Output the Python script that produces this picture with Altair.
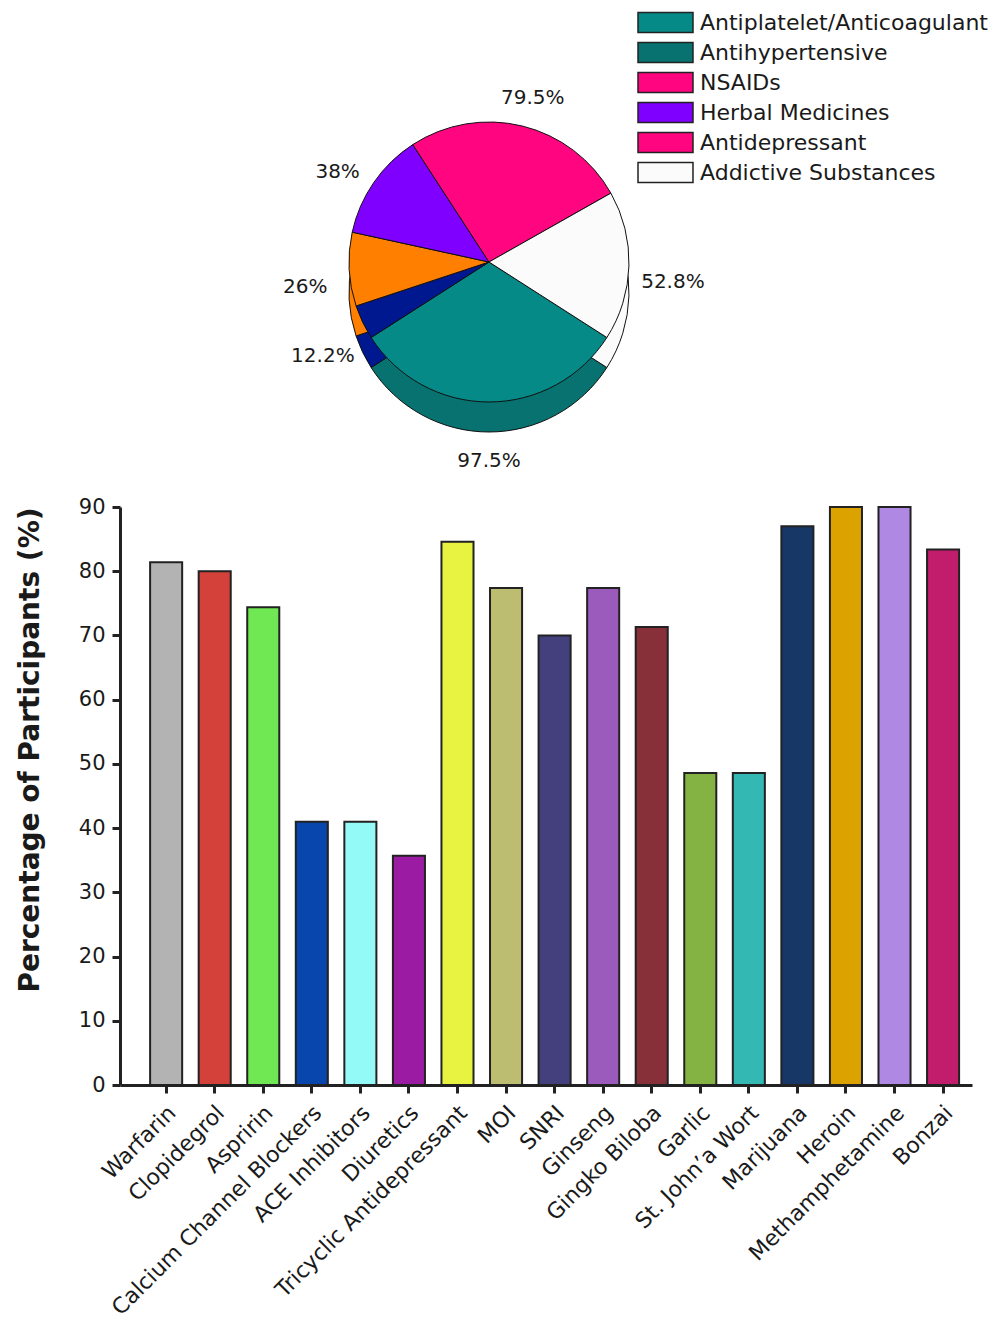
import math
import altair as alt
import pandas as pd

# ---------------- data ----------------
pie_groups = ["Antiplatelet/Anticoagulant", "Antihypertensive", "NSAIDs",
              "Herbal Medicines", "Antidepressant", "Addictive Substances"]
pie_values = [97.5, 12.2, 26.0, 38.0, 79.5, 52.8]
pie_labels = ["97.5%", "12.2%", "26%", "38%", "79.5%", "52.8%"]
pie_top_colors = ["#058a87", "#00188f", "#ff8000", "#7f00ff", "#ff0580", "#fbfbfb"]
pie_side_colors = ["#077270", "#00188f", "#ff8000", "#7f00ff", "#ff0580", "#fbfbfb"]
legend_colors = ["#058a87", "#077270", "#ff0580", "#7f00ff", "#ff0580", "#fbfbfb"]

drugs = ["Warfarin", "Clopidegrol", "Aspririn", "Calcium Channel Blockers",
         "ACE Inhibitors", "Diuretics", "Tricyclic Antidepressant", "MOI", "SNRI",
         "Ginseng", "Gingko Biloba", "Garlic", "St. John\u2019a Wort", "Marijuana",
         "Heroin", "Methamphetamine", "Bonzai"]
pct = [81.4, 80.0, 74.4, 41.0, 41.0, 35.7, 84.6, 77.4, 70.0,
       77.4, 71.3, 48.6, 48.6, 87.0, 90.0, 90.0, 83.4]
bar_colors = ["#b3b3b3", "#d4403a", "#6fe854", "#0846ad", "#94faf7", "#9b1ca3",
              "#e8f240", "#bdbd72", "#44407e", "#9b5bbd", "#88303a", "#84b343",
              "#33b8b3", "#173866", "#dca300", "#ae88e3", "#c21c6c"]

FONT = "DejaVu Sans"
TXT = "#1a1a1a"

# ---------------- layout (pixels relative to the bar plot's top-left) ----------------
CX, CY, R, D = 369, -245, 140, 30

# ---------------- pie ----------------
pie_df = pd.DataFrame({
    "group": pie_groups, "value": pie_values, "label": pie_labels,
    "top": pie_top_colors, "side": pie_side_colors, "idx": list(range(len(pie_values))),
})

start = math.radians(122.65)
theta_scale = alt.Scale(range=[start, start + 2 * math.pi], nice=False, zero=True)

base = alt.Chart(pie_df).encode(
    theta=alt.Theta("value:Q", stack=True, scale=theta_scale),
    order=alt.Order("idx:Q"),
)

legend_layer = alt.Chart(pie_df).mark_point(filled=True, size=10).encode(
    x=alt.value(CX), y=alt.value(CY),
    color=alt.Color("group:N", sort=pie_groups,
                    scale=alt.Scale(domain=pie_groups, range=legend_colors),
                    legend=alt.Legend(
                        title=None, orient="none", legendX=531, legendY=-499,
                        symbolType="M-2,-0.72L2,-0.72L2,0.72L-2,0.72Z",
                        symbolSize=756, symbolStrokeColor="#222",
                        symbolStrokeWidth=1.5, symbolOpacity=1,
                        labelFontSize=22, labelFont=FONT, labelColor=TXT,
                        labelOffset=20, rowPadding=2, padding=0,
                        labelLimit=400)),
)

side = base.mark_arc(outerRadius=R, stroke="#111", strokeWidth=1).encode(
    x=alt.value(CX), y=alt.value(CY + D),
    fill=alt.Fill("side:N", scale=None),
)
top = base.mark_arc(outerRadius=R, stroke="#111", strokeWidth=1).encode(
    x=alt.value(CX), y=alt.value(CY),
    fill=alt.Fill("top:N", scale=None),
)
labels = base.mark_text(radius=R + 44, fontSize=20, font=FONT, color=TXT).encode(
    x=alt.value(CX), y=alt.value(CY + D / 2),
    text="label:N",
)

# ---------------- bars ----------------
bar_df = pd.DataFrame({"drug": drugs, "pct": pct, "color": bar_colors})

bars = alt.Chart(bar_df).mark_bar(stroke="#222", strokeWidth=2).encode(
    x=alt.X("drug:N", sort=drugs,
            scale=alt.Scale(paddingInner=0.34, paddingOuter=0.443, align=0.7),
            axis=alt.Axis(title=None, labelAngle=-45, labelAlign="right",
                          labelBaseline="middle", labelFontSize=22, labelFont=FONT,
                          labelColor=TXT, labelPadding=16, labelOffset=6,
                          tickSize=8, tickWidth=3,
                          tickColor="#222", domainWidth=3, domainColor="#222",
                          labelLimit=400)),
    y=alt.Y("pct:Q", scale=alt.Scale(domain=[0, 90], nice=False),
            axis=alt.Axis(title="Percentage of Participants (%)",
                          values=list(range(0, 100, 10)),
                          titleFontSize=28, titleFont=FONT, titleFontWeight="bold",
                          titleColor=TXT, titleAnchor="end", titlePadding=34,
                          labelFontSize=21, labelFont=FONT, labelColor=TXT,
                          labelPadding=7, tickSize=8, tickWidth=3, tickColor="#222",
                          domainWidth=3, domainColor="#222", grid=False)),
    fill=alt.Fill("color:N", scale=None),
)

chart = alt.layer(legend_layer, side, top, labels, bars).properties(
    width=852, height=578,
    padding={"left": 8, "top": 0, "right": 0, "bottom": 0},
).configure_view(stroke=None).configure_axis(grid=False)

chart.save("out.html", embed_options={"renderer": "svg", "actions": False})
